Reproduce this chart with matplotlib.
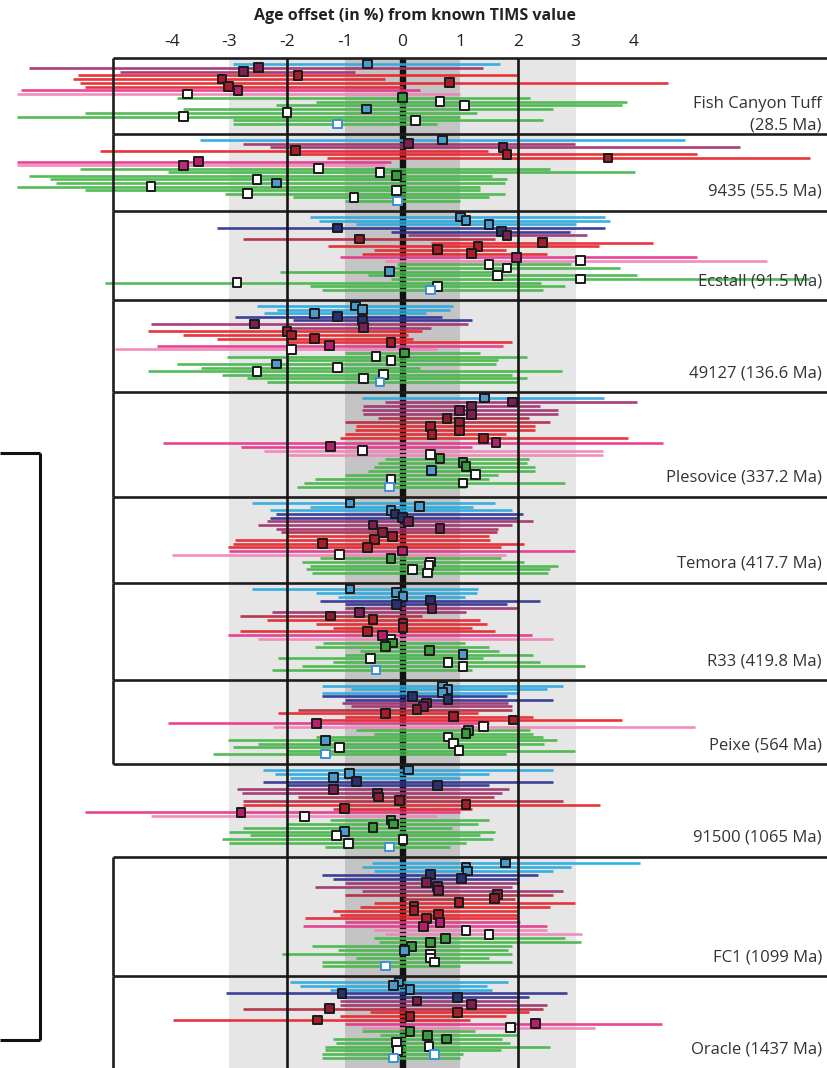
import numpy as np
import matplotlib
matplotlib.use("Agg")
import matplotlib.pyplot as plt

plt.rcParams["font.family"] = ["Open Sans", "DejaVu Sans"]

# --- data: age offset (%) per analysis, grouped by reference zircon --------
TICKS = [-4, -3, -2, -1, 0, 1, 2, 3, 4]

fish_col = list("bpprrrrklgggggggg")
fish_lo = [-2.94, -6.47, -4.90, -5.62, -5.71, -5.59, -5.50, -6.61, -6.68, -3.91, -1.50, -2.20, -3.80, -5.50, -6.68, -2.94, -2.94]
fish_mid = [-0.60, -2.50, -2.76, -1.81, -3.13, 0.81, -3.01, -2.85, -3.72, 0.00, 0.65, 1.08, -0.62, -2.00, -3.80, 0.22, -1.12]
fish_hi = [1.69, 1.40, -0.82, 1.98, -0.30, 4.60, 0.00, 0.30, 1.00, 2.21, 3.89, 3.80, 2.61, 1.29, 1.00, 2.43, 0.60]
fish_mk = list("bfffffffwgwwbwwwc")

s9435_col = list("bpprrrklgggggggggg")
s9435_lo = [-3.51, -2.76, -2.30, -5.24, -2.00, -1.30, -6.68, -6.68, -5.59, -4.06, -6.47, -6.11, -6.00, -6.68, -5.50, -3.08, -1.90, -1.00]
s9435_mid = [0.70, 0.11, 1.74, -1.85, 1.81, 3.56, -3.53, -3.80, -1.45, -0.39, -0.10, -2.52, -2.19, -4.36, -0.10, -2.69, -0.84, -0.08]
s9435_hi = [4.90, 2.99, 5.85, 1.48, 5.10, 7.06, -0.20, -0.30, 2.56, 4.03, 1.55, 1.81, 1.78, 1.34, 1.34, 1.78, 1.50, 1.00]
s9435_mk = list("bfffffffwwgwbwwwwc")

ecst_col = list("bbbnnpmrrrrklgggggggg")
ecst_lo = [-1.60, -1.45, -0.80, -3.21, -0.20, 0.10, -2.76, 0.49, -1.29, -0.50, -0.70, -1.08, -0.30, -0.10, -0.30, -2.12, -0.60, -0.20, -5.16, -1.60, -1.40]
ecst_mid = [1.00, 1.10, 1.50, -1.12, 1.71, 1.81, -0.75, 2.43, 1.31, 0.60, 1.19, 1.98, 3.09, 1.50, 1.81, -0.23, 1.64, 3.09, -2.87, 0.60, 0.49]
ecst_hi = [3.51, 3.60, 3.00, 3.51, 2.90, 3.20, 1.60, 4.34, 3.41, 1.80, 2.50, 5.10, 6.32, 2.92, 3.77, 1.60, 4.06, 7.06, 2.40, 2.82, 2.43]
ecst_mk = list("bbbfffffffffwwwbwwwwc")

s49127_col = list("bbbnnpprrrrklggggggggg")
s49127_lo = [-2.52, -2.18, -2.40, -2.90, -1.90, -4.36, -2.00, -4.41, -3.80, -3.21, -2.00, -4.25, -4.98, -1.00, -3.04, -2.00, -3.91, -3.50, -4.41, -3.13, -2.70, -2.35]
s49127_mid = [-0.81, -0.70, -1.52, -1.12, -0.70, -2.56, -0.67, -2.00, -1.92, -1.52, -0.20, -1.27, -1.92, 0.03, -0.46, -0.20, -2.19, -1.12, -2.52, -0.33, -0.67, -0.39]
s49127_hi = [0.88, 0.82, 0.40, 0.68, 1.20, 1.14, 0.50, 0.34, 0.10, 0.18, 1.90, 1.74, 0.60, 1.34, 2.16, 1.66, 1.62, 0.30, 2.77, 1.90, 2.16, 2.00]
s49127_mk = list("bbbfffffffffwgwwbwwwwc")

ples_col = list("bppppmmrrrrkkllgggggggg")
ples_lo = [-0.70, -0.30, -0.69, -0.70, -0.68, -0.43, -1.00, -0.80, -0.82, -1.00, -1.08, -4.15, -2.80, -2.40, -2.00, -0.30, -0.43, -0.50, -0.60, -1.00, -1.52, -1.70, -1.82]
ples_mid = [1.42, 1.91, 1.19, 0.99, 1.19, 0.77, 0.99, 0.49, 0.99, 0.51, 1.40, 1.62, -1.25, -0.70, 0.49, 0.65, 1.05, 1.10, 0.50, 1.26, -0.20, 1.05, -0.22]
ples_hi = [3.49, 4.06, 2.38, 2.69, 2.69, 2.20, 2.56, 2.30, 2.30, 1.80, 3.91, 4.51, 1.20, 3.47, 3.47, 2.20, 2.16, 2.30, 2.30, 1.66, 1.50, 2.82, 1.10]
ples_mk = list("bffffffffffffwwgggbwwwc")

tem_col = list("bbbnnpppmrrrrklggggg")
tem_lo = [-2.61, -1.60, -2.30, -2.20, -2.30, -2.35, -2.50, -2.20, -2.10, -2.00, -2.90, -2.93, -3.03, -3.00, -3.99, -1.43, -1.74, -1.60, -1.68, -1.57]
tem_mid = [-0.91, 0.30, -0.20, -0.13, 0.00, 0.10, -0.51, 0.65, -0.34, -0.18, -0.49, -1.39, -0.61, 0.00, -1.09, -0.20, 0.49, 0.46, 0.17, 0.44]
tem_hi = [1.61, 1.23, 1.90, 2.09, 1.98, 2.26, 1.90, 1.65, 1.64, 1.50, 1.52, 2.10, 1.70, 2.99, 1.80, 1.70, 2.10, 2.70, 2.56, 2.52]
tem_mk = list("bbbfffffffffffwgwwww")

r33_col = list("bbbnnppmrrrrklgggggggg")
r33_lo = [-2.61, -1.50, -1.12, -1.43, -1.00, -1.00, -2.26, -2.82, -2.35, -1.50, -1.20, -2.82, -3.03, -2.50, -1.38, -1.52, -0.73, -1.00, -2.15, -1.20, -1.74, -2.26]
r33_mid = [-0.91, -0.11, 0.01, 0.49, -0.11, 0.51, -0.75, -1.25, -0.51, 0.01, 0.01, -0.61, -0.34, -0.20, -0.17, -0.29, 0.47, 1.05, -0.56, 0.79, 1.05, -0.46]
r33_hi = [1.30, 1.29, 1.08, 2.39, 1.81, 1.98, 1.10, 0.34, 1.34, 1.47, 1.21, 1.61, 2.25, 2.61, 1.08, 1.50, 1.68, 2.26, 1.40, 2.39, 3.16, 1.20]
r33_mk = list("bbbffffffffffwgggbwwwc")

peixe_col = list("bbbnnppmrrrklgggggggg")
peixe_lo = [-1.40, -0.90, -1.40, -1.40, -1.00, -1.05, -0.90, -1.81, -2.15, -1.00, -1.50, -4.06, -2.24, -0.80, -0.50, -1.50, -3.02, -2.50, -2.93, -2.00, -3.28]
peixe_mid = [0.70, 0.79, 0.70, 0.18, 0.79, 0.41, 0.36, 0.25, -0.30, 0.89, 1.92, -1.49, 1.40, 1.14, 1.10, 0.79, -1.34, 0.89, -1.09, 0.98, -1.34]
peixe_hi = [2.78, 2.50, 2.00, 1.81, 2.61, 1.83, 1.90, 1.90, 1.31, 2.26, 3.80, 1.50, 5.07, 2.21, 2.26, 2.43, 2.67, 2.45, 2.00, 2.99, 1.80]
peixe_mk = list("bbbfffffffffwggwbwwwc")

s91500_col = list("bbbnnppmmrrklgggggggg")
s91500_lo = [-2.42, -2.21, -1.95, -2.42, -2.00, -2.87, -2.78, -1.81, -2.76, -2.76, -1.20, -5.50, -4.36, -1.25, -2.00, -2.76, -3.00, -2.64, -3.13, -3.00, -1.35]
s91500_mid = [0.10, -0.92, -1.20, -0.80, 0.60, -1.20, -0.44, -0.42, -0.05, 1.10, -1.00, -2.80, -1.70, -0.20, -0.16, -0.51, -1.00, -1.15, 0.01, -0.94, -0.23]
s91500_hi = [2.60, 1.50, 1.00, 2.60, 1.50, 1.85, 1.72, 1.58, 2.78, 3.43, 1.20, 1.00, 0.60, 1.50, 1.30, 0.85, 1.60, 1.35, 1.57, 1.10, 0.83]
s91500_mk = list("bbbfffffffffwgggbwwwc")

fc1_col = list("bbbnnpppmmrrrrrkkllgggggggg")
fc1_lo = [-0.53, -0.70, -0.50, -1.39, -1.20, -1.00, -1.52, -0.70, -1.00, 0.00, -0.50, -0.73, -1.20, -1.08, -1.69, -1.00, -1.72, -0.50, -0.30, -0.50, -0.40, -1.57, -1.12, -2.09, -0.80, -1.40, -1.39]
fc1_mid = [1.79, 1.10, 1.12, 0.49, 1.02, 0.41, 0.60, 0.62, 1.64, 1.60, 0.98, 0.20, 0.20, 0.62, 0.41, 0.65, 0.36, 1.10, 1.50, 0.74, 0.49, 0.15, 0.03, 0.49, 0.49, 0.55, -0.29]
fc1_hi = [4.12, 2.92, 2.60, 2.35, 2.00, 2.02, 1.90, 2.78, 2.60, 1.95, 2.99, 2.55, 2.00, 1.98, 2.00, 2.04, 2.50, 2.50, 3.11, 2.81, 3.10, 1.90, 1.83, 1.90, 1.50, 1.90, 1.00]
fc1_mk = list("bbbffffffffffffffwwgggbwwwc")

orac_col = list("bbbnnppmrrrklgggggggg")
orac_lo = [-1.95, -1.77, -1.26, -3.06, -1.08, -1.08, -1.08, -2.76, -0.56, -1.08, -3.98, -1.00, -0.70, -0.70, -0.39, -1.20, -1.16, -1.34, -1.34, -1.40, -1.39]
orac_mid = [-0.06, -0.16, 0.13, -1.05, 0.96, 0.25, 1.20, -1.26, 0.96, 0.13, -1.47, 2.30, 1.87, 0.13, 0.44, 0.76, -0.11, 0.46, -0.09, 0.56, -0.16]
orac_hi = [1.82, 1.46, 1.55, 2.85, 2.20, 2.00, 2.50, 2.43, 2.20, 1.80, 1.17, 4.50, 3.34, 1.26, 2.00, 1.73, 1.87, 2.56, 1.70, 1.04, 1.00]
orac_mk = list("bbbfffffffffwgggwwwcc")

LABELS = ["Fish Canyon Tuff\n(28.5 Ma)", "9435 (55.5 Ma)", "Ecstall (91.5 Ma)",
          "49127 (136.6 Ma)", "Plesovice (337.2 Ma)", "Temora (417.7 Ma)",
          "R33 (419.8 Ma)", "Peixe (564 Ma)", "91500 (1065 Ma)",
          "FC1 (1099 Ma)", "Oracle (1437 Ma)"]
SERIES = [
    (fish_col, fish_lo, fish_mid, fish_hi, fish_mk),
    (s9435_col, s9435_lo, s9435_mid, s9435_hi, s9435_mk),
    (ecst_col, ecst_lo, ecst_mid, ecst_hi, ecst_mk),
    (s49127_col, s49127_lo, s49127_mid, s49127_hi, s49127_mk),
    (ples_col, ples_lo, ples_mid, ples_hi, ples_mk),
    (tem_col, tem_lo, tem_mid, tem_hi, tem_mk),
    (r33_col, r33_lo, r33_mid, r33_hi, r33_mk),
    (peixe_col, peixe_lo, peixe_mid, peixe_hi, peixe_mk),
    (s91500_col, s91500_lo, s91500_mid, s91500_hi, s91500_mk),
    (fc1_col, fc1_lo, fc1_mid, fc1_hi, fc1_mk),
    (orac_col, orac_lo, orac_mid, orac_hi, orac_mk),
]

# --- layout (vertical positions in pixels, 0 at top) -----------------------
W, H = 827, 1068
PX_PER_PCT = 57.7
X0_PX = 402.5
XMIN, XMAX = -X0_PX / PX_PER_PCT, (W - X0_PX) / PX_PER_PCT
EDGES = [58, 134, 211, 300, 392, 497, 583, 680, 764, 857, 976, 1068]
NO_BOX = {8}          # 91500 sits outside the framed panels
BOX_LEFT = -5.02

COLORS = {"b": "#29aae1", "n": "#2e3192", "p": "#a0306e", "m": "#b3283f",
          "r": "#e8232b", "k": "#e6368c", "l": "#f283b6", "g": "#45b649"}
FACES = {"b": "#3292c6", "n": "#2a3070", "p": "#7d1f55", "m": "#8e1f30",
         "r": "#a81d28", "k": "#b8206b", "l": "#c02a74", "g": "#3b9c3e"}
EDGE = "#1a1a1a"

fig = plt.figure(figsize=(W / 100, H / 100), dpi=100)
ax = fig.add_axes([0, 0, 1, 1])
ax.set_xlim(XMIN, XMAX)
ax.set_ylim(H, 0)
ax.axis("off")

top = EDGES[0]
ax.fill_betweenx([top, H], -3, 3, color="#e6e6e6", lw=0, zorder=0)
ax.fill_betweenx([top, H], -1, 1, color="#c4c4c4", lw=0, zorder=0.5)
ax.vlines(0, top, H, color="#111111", lw=4.6, zorder=2)

for i, (col, lo, mid, hi, mk) in enumerate(SERIES):
    y0, y1 = EDGES[i], EDGES[i + 1]
    ys = np.linspace(y0 + 6, y1 - 10, len(col))
    ax.hlines(ys, lo, hi, colors=[COLORS[c] for c in col], lw=1.9,
              alpha=0.92, zorder=3)
    fc, ec = [], []
    for c, m in zip(col, mk):
        if m == "f":
            fc.append(FACES[c]); ec.append(EDGE)
        elif m == "w":
            fc.append("white"); ec.append(EDGE)
        elif m == "g":
            fc.append(FACES["g"]); ec.append(EDGE)
        elif m == "b":
            fc.append("#4b9ccc"); ec.append(EDGE)
        else:
            fc.append("white"); ec.append("#3d8fd6")
    ax.scatter(mid, ys, marker="s", s=40, facecolors=fc, edgecolors=ec,
               linewidths=1.4, zorder=5)

    ax.text(XMAX - 0.09, y1 - 19, LABELS[i], ha="right", va="center",
            fontsize=12, color="#333333", linespacing=1.45, zorder=6)

# panel frames
frame = dict(color="#1e1e1e", lw=1.9, zorder=4)
for i, e in enumerate(EDGES[:-1]):
    ax.hlines(e, BOX_LEFT, XMAX, **frame)
for i in range(len(EDGES) - 1):
    if i not in NO_BOX:
        ax.vlines(BOX_LEFT, EDGES[i], EDGES[i + 1], **frame)
ax.vlines([-2, 2], top, H, color="#151515", lw=1.9, zorder=4)

# stray frame at the far left
xl = (40 - X0_PX) / PX_PER_PCT
ax.vlines(xl, 453, 1040, color="#111111", lw=2.2, zorder=4)
ax.hlines([453, 1040], XMIN, xl, color="#111111", lw=2.2, zorder=4)

for t in TICKS:
    ax.text(t, 42, f"{t}", ha="center", va="center", fontsize=12.5,
            color="#222222")
ax.text(0.22, 16, "Age offset (in %) from known TIMS value", ha="center",
        va="center", fontsize=11.5, fontweight="bold", color="#222222")

fig.savefig("out.png", dpi=100, facecolor="white")
